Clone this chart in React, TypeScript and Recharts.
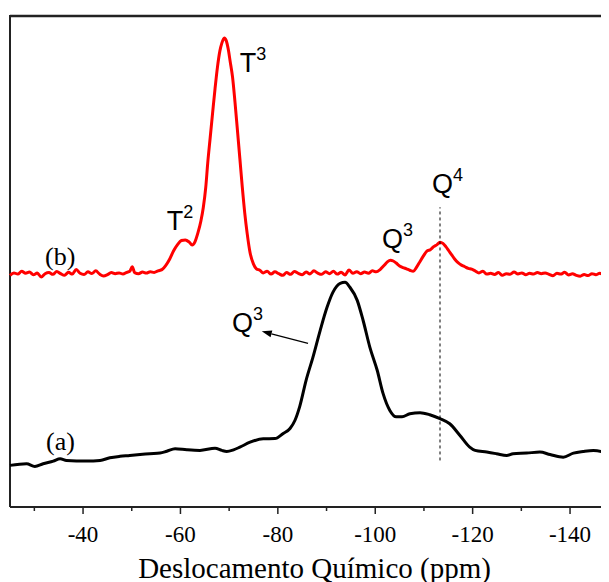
import React from 'react';
import { LineChart, Line, XAxis, YAxis, ReferenceLine, ReferenceDot } from 'recharts';

// 29Si MAS NMR spectra: chemical shift (ppm) vs. intensity (a.u.)
const ppmA = [-25.0, -28.4, -30.1, -31.8, -33.9, -35.3, -36.6, -40.7, -43.5, -45.5, -47.6, -49.6, -51.7, -53.7, -55.8, -57.2, -58.9, -61.3, -64.0, -67.1, -68.5, -69.5, -70.9, -72.2, -74.3, -77.0, -79.4, -81.1, -82.5, -83.5, -84.5, -85.8, -87.2, -88.7, -90.1, -91.3, -92.8, -93.8, -94.8, -96.3, -97.5, -98.9, -100.4, -101.6, -103.0, -104.3, -105.5, -107.1, -109.2, -111.2, -113.3, -115.3, -117.4, -119.4, -120.5, -122.9, -124.9, -127.0, -128.3, -131.1, -133.8, -135.9, -138.6, -140.7, -142.7, -144.8, -146.8, -148.0];
const intensityA = [2.03, 2.11, 1.98, 2.11, 2.24, 2.35, 2.27, 2.24, 2.27, 2.40, 2.47, 2.51, 2.56, 2.60, 2.63, 2.72, 2.84, 2.79, 2.76, 2.87, 2.76, 2.71, 2.79, 2.92, 3.16, 3.33, 3.34, 3.59, 3.83, 4.22, 4.91, 6.18, 7.30, 8.62, 9.74, 10.47, 10.91, 10.96, 10.72, 10.08, 9.11, 7.79, 6.67, 5.54, 4.71, 4.40, 4.40, 4.55, 4.60, 4.50, 4.31, 4.06, 3.49, 2.92, 2.76, 2.68, 2.60, 2.51, 2.60, 2.63, 2.68, 2.56, 2.43, 2.63, 2.71, 2.76, 2.68, 2.56];

const ppmB = [-25.0, -25.8, -26.6, -27.4, -28.2, -29.0, -29.8, -30.6, -31.4, -32.2, -33.0, -33.8, -34.6, -35.4, -36.2, -37.0, -37.8, -38.6, -39.4, -40.2, -41.0, -41.8, -42.6, -43.4, -44.2, -45.0, -45.8, -46.6, -47.4, -48.2, -49.0, -49.6, -50.1, -50.6, -51.4, -52.2, -53.0, -53.8, -54.6, -55.4, -56.2, -57.0, -57.8, -58.6, -59.4, -60.2, -61.0, -61.8, -62.4, -63.0, -63.6, -64.2, -64.7, -65.2, -65.6, -66.1, -66.6, -67.1, -67.6, -68.1, -68.5, -69.0, -69.4, -69.8, -70.2, -70.7, -71.2, -71.7, -72.2, -72.7, -73.2, -73.7, -74.3, -75.0, -75.6, -76.3, -77.0, -77.8, -78.6, -79.4, -80.2, -81.0, -81.8, -82.6, -83.4, -84.2, -85.0, -85.8, -86.6, -87.4, -88.2, -89.0, -89.8, -90.6, -91.4, -92.2, -93.0, -93.8, -94.6, -95.4, -96.2, -97.0, -97.8, -98.6, -99.4, -100.2, -101.0, -101.8, -102.5, -103.1, -103.7, -104.3, -105.0, -105.7, -106.4, -107.1, -107.8, -108.5, -109.2, -109.9, -110.6, -111.3, -112.0, -112.7, -113.3, -113.9, -114.5, -115.1, -115.7, -116.3, -117.0, -117.7, -118.4, -119.1, -119.8, -120.5, -121.3, -122.1, -122.9, -123.7, -124.5, -125.3, -126.1, -126.9, -127.7, -128.5, -129.3, -130.1, -130.9, -131.7, -132.5, -133.3, -134.1, -134.9, -135.7, -136.5, -137.3, -138.1, -138.9, -139.7, -140.5, -141.3, -142.1, -142.9, -143.7, -144.5, -145.3, -146.1, -146.9, -147.6, -148.0];
const intensityB = [11.30, 11.42, 11.36, 11.50, 11.40, 11.46, 11.33, 11.41, 11.22, 11.38, 11.44, 11.35, 11.49, 11.38, 11.30, 11.45, 11.36, 11.58, 11.40, 11.34, 11.47, 11.39, 11.52, 11.36, 11.27, 11.33, 11.44, 11.38, 11.42, 11.36, 11.45, 11.50, 11.72, 11.43, 11.38, 11.46, 11.41, 11.48, 11.44, 11.52, 11.58, 11.79, 12.10, 12.50, 12.80, 13.00, 13.03, 12.92, 12.78, 12.95, 13.38, 13.95, 14.62, 15.60, 16.77, 18.00, 19.21, 20.40, 21.46, 22.25, 22.63, 22.88, 22.75, 22.35, 21.75, 20.97, 19.75, 18.38, 17.00, 15.60, 14.35, 13.35, 12.40, 11.85, 11.62, 11.55, 11.42, 11.50, 11.36, 11.47, 11.38, 11.30, 11.44, 11.35, 11.49, 11.40, 11.33, 11.46, 11.37, 11.52, 11.41, 11.35, 11.48, 11.38, 11.50, 11.36, 11.45, 11.32, 11.56, 11.40, 11.48, 11.38, 11.46, 11.40, 11.52, 11.47, 11.58, 11.78, 11.96, 12.04, 12.00, 11.90, 11.76, 11.68, 11.62, 11.55, 11.50, 11.70, 11.98, 12.25, 12.48, 12.55, 12.70, 12.80, 12.92, 12.86, 12.70, 12.50, 12.30, 12.10, 11.92, 11.80, 11.72, 11.64, 11.60, 11.52, 11.42, 11.50, 11.36, 11.40, 11.34, 11.44, 11.30, 11.38, 11.35, 11.46, 11.37, 11.42, 11.33, 11.40, 11.36, 11.44, 11.38, 11.42, 11.35, 11.28, 11.40, 11.36, 11.45, 11.32, 11.38, 11.30, 11.26, 11.34, 11.29, 11.38, 11.33, 11.40, 11.35, 11.42, 11.38];

const xTicks = [-30, -40, -50, -60, -70, -80, -90, -100, -110, -120, -130, -140];
const yTicks = [1, 2, 3, 4, 5, 6, 7, 8, 9, 10, 11, 12, 13, 14, 15, 16, 17, 18, 19, 20, 21, 22, 23];
const X_DOMAIN: [number, number] = [-148, -25];
const Y_DOMAIN: [number, number] = [0, 24];

// Peak assignments: [base label, superscript, ppm, intensity]
const peakLabels: [string, string, number, number][] = [
  ['T', '3', -72.2, 21.22],
  ['T', '2', -57.2, 13.5],
  ['Q', '3', -101.4, 12.62],
  ['Q', '4', -111.65, 15.31],
  ['Q', '3', -70.6, 8.52],
];
const sampleLabels: [string, number, number][] = [
  ['(b)', -32.2, 11.79],
  ['(a)', -32.4, 2.76],
];
const q4Line = { ppm: -113.3, from: 2.27, to: 14.62 };
const q3Arrow = { tail: [-86.2, 7.98], head: [-76.7, 8.57] };

const seriesA = ppmA.map((ppm, i) => ({ ppm, v: intensityA[i] }));
const seriesB = ppmB.map((ppm, i) => ({ ppm, v: intensityB[i] }));

const AXIS = '#222';
const SERIF = '"Liberation Serif", "Times New Roman", serif';
const SANS = '"Liberation Sans", Arial, sans-serif';

const BottomTick = (props: any) => {
  const { x, y, payload } = props;
  const v = payload.value as number;
  const major = v % 20 === 0;
  return (
    <g>
      <line x1={x} x2={x} y1={y} y2={y + (major ? 7 : 4)} stroke={AXIS} strokeWidth={1.5} />
      {major && (
        <text x={x} y={y + 34.5} textAnchor="middle" fontFamily={SERIF} fontSize={23} fill="#000">
          {String(v)}
        </text>
      )}
    </g>
  );
};

const TopTick = (props: any) => {
  const { x, y } = props;
  return <line x1={x} x2={x} y1={y} y2={y + 3} stroke={AXIS} strokeWidth={1} />;
};

const LeftTick = (props: any) => {
  const { x, y } = props;
  return <line x1={x} x2={x + 3} y1={y} y2={y} stroke={AXIS} strokeWidth={1} />;
};

const AxisTitle = (props: any) => {
  const vb = props.viewBox || {};
  return (
    <text
      x={vb.x + vb.width / 2 + 5}
      y={vb.y + 70.5}
      textAnchor="middle"
      fontFamily={SERIF}
      fontSize={29}
      fill="#000"
    >
      Deslocamento Químico (ppm)
    </text>
  );
};

const Arrow = (props: any) => {
  const { x1, y1, x2, y2 } = props;
  const dx = x2 - x1;
  const dy = y2 - y1;
  const len = Math.sqrt(dx * dx + dy * dy) || 1;
  const ux = dx / len;
  const uy = dy / len;
  const hl = 10;
  const hw = 3.5;
  const bx = x2 - ux * hl;
  const by = y2 - uy * hl;
  return (
    <g>
      <line x1={x1} y1={y1} x2={bx} y2={by} stroke="#000" strokeWidth={1.2} />
      <polygon
        points={`${x2},${y2} ${bx - uy * hw},${by + ux * hw} ${bx + uy * hw},${by - ux * hw}`}
        fill="#000"
      />
    </g>
  );
};

export default function App() {
  return (
    <LineChart width={601} height={574} margin={{ top: 7, right: 0, bottom: 0, left: 2 }}>
      <XAxis
        xAxisId="b"
        dataKey="ppm"
        type="number"
        domain={X_DOMAIN}
        reversed
        ticks={xTicks}
        interval={0}
        height={75}
        tickSize={0}
        tickMargin={0}
        tickLine={false}
        tick={<BottomTick />}
        axisLine={false}
        label={<AxisTitle />}
      />
      <XAxis
        xAxisId="t"
        orientation="top"
        dataKey="ppm"
        type="number"
        domain={X_DOMAIN}
        reversed
        ticks={xTicks}
        interval={0}
        height={0}
        tickSize={0}
        tickMargin={0}
        tickLine={false}
        tick={<TopTick />}
        axisLine={false}
      />
      <YAxis
        yAxisId="y"
        type="number"
        domain={Y_DOMAIN}
        ticks={yTicks}
        interval={0}
        width={0}
        tickSize={0}
        tickMargin={0}
        tickLine={false}
        tick={<LeftTick />}
        axisLine={false}
      />
      {/* plot frame: bottom, left and top edges */}
      <ReferenceLine xAxisId="b" yAxisId="y" y={Y_DOMAIN[0]} stroke={AXIS} strokeWidth={2} ifOverflow="visible" />
      <ReferenceLine xAxisId="b" yAxisId="y" x={X_DOMAIN[1]} stroke={AXIS} strokeWidth={2} ifOverflow="visible" />
      <ReferenceLine xAxisId="b" yAxisId="y" y={23.95} stroke={AXIS} strokeWidth={2.5} ifOverflow="visible" />
      <Line
        xAxisId="b"
        yAxisId="y"
        data={seriesA}
        dataKey="v"
        type="monotone"
        stroke="#000"
        strokeWidth={3}
        dot={false}
        isAnimationActive={false}
      />
      <Line
        xAxisId="b"
        yAxisId="y"
        data={seriesB}
        dataKey="v"
        type="monotone"
        stroke="#ff0000"
        strokeWidth={3}
        dot={false}
        isAnimationActive={false}
      />
      <ReferenceLine
        xAxisId="b"
        yAxisId="y"
        segment={[
          { x: q4Line.ppm, y: q4Line.from },
          { x: q4Line.ppm, y: q4Line.to },
        ]}
        stroke="#000"
        strokeWidth={1}
        strokeDasharray="3 3"
      />
      <ReferenceLine
        xAxisId="b"
        yAxisId="y"
        segment={[
          { x: q3Arrow.tail[0], y: q3Arrow.tail[1] },
          { x: q3Arrow.head[0], y: q3Arrow.head[1] },
        ]}
        shape={(p: any) => <Arrow {...p} />}
      />
      {peakLabels.map(([base, sup, ppm, v], i) => (
        <ReferenceDot
          key={`pk-${i}`}
          xAxisId="b"
          yAxisId="y"
          x={ppm}
          y={v}
          r={0}
          ifOverflow="visible"
          shape={(p: any) => (
            <text x={p.cx} y={p.cy} fontFamily={SANS} fontSize={27} fill="#000">
              {base}
              <tspan dy={-12} fontSize={18}>
                {sup}
              </tspan>
            </text>
          )}
        />
      ))}
      {sampleLabels.map(([text, ppm, v], i) => (
        <ReferenceDot
          key={`sl-${i}`}
          xAxisId="b"
          yAxisId="y"
          x={ppm}
          y={v}
          r={0}
          ifOverflow="visible"
          shape={(p: any) => (
            <text x={p.cx} y={p.cy} fontFamily={SERIF} fontSize={26} fill="#000">
              {text}
            </text>
          )}
        />
      ))}
    </LineChart>
  );
}
